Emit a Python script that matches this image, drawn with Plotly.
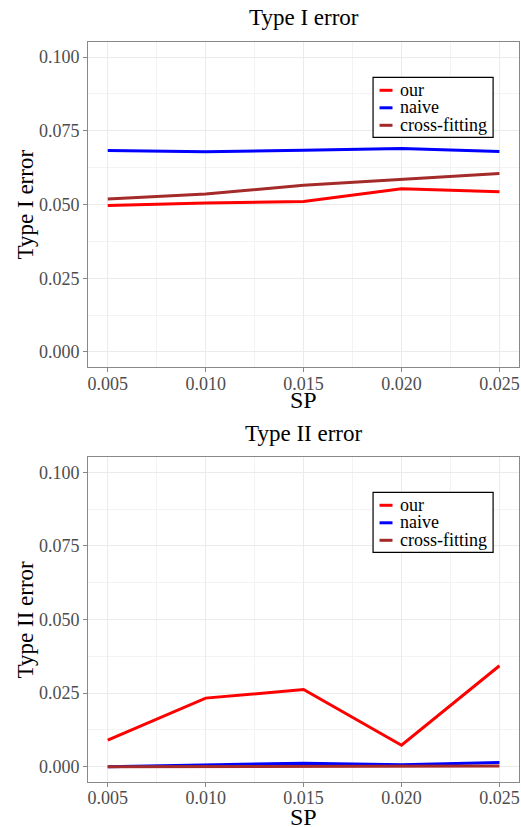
import plotly.graph_objects as go

sp = [0.005, 0.010, 0.015, 0.020, 0.025]
series_names = ["our", "naive", "cross-fitting"]
series_colors = ["#ff0000", "#0000ff", "#a52a2a"]

type1_our = [0.0497, 0.0505, 0.0510, 0.0553, 0.0543]
type1_naive = [0.0683, 0.0679, 0.0684, 0.0690, 0.0680]
type1_cross = [0.0519, 0.0536, 0.0565, 0.0585, 0.0605]

type2_our = [0.0090, 0.0233, 0.0262, 0.0073, 0.0343]
type2_naive = [0.0000, 0.0005, 0.0012, 0.0007, 0.0014]
type2_cross = [0.0000, 0.0000, 0.0001, 0.0001, 0.0002]

y_ticks = [0.000, 0.025, 0.050, 0.075, 0.100]

W, H = 521, 827
FONT = "Liberation Serif"

fig = go.Figure()

panels = [
    ([type1_our, type1_naive, type1_cross], "x", "y"),
    ([type2_our, type2_naive, type2_cross], "x2", "y2"),
]
for data, xa, ya in panels:
    for name, col, vals in zip(series_names, series_colors, data):
        fig.add_trace(go.Scatter(x=sp, y=vals, mode="lines", name=name,
                                 line=dict(color=col, width=3),
                                 xaxis=xa, yaxis=ya, showlegend=False))

left, right = 87.5 / W, 520 / W
top_dom = [1 - 367 / H, 1 - 42 / H]
bot_dom = [1 - 781.7 / H, 1 - 457.3 / H]

def xaxis(dom_anchor):
    return dict(domain=[left, right], anchor=dom_anchor, range=[0.004, 0.026],
                tickvals=sp, ticktext=[f"{v:.3f}" for v in sp],
                ticks="outside", ticklen=4, tickcolor="#888888",
                ticklabelstandoff=-4,
                showline=True, mirror=True, linecolor="#888888", linewidth=1,
                showgrid=True, gridcolor="#ebebeb", gridwidth=1,
                minor=dict(dtick=0.0025, tick0=0.0025, showgrid=True, gridcolor="#f3f3f3", gridwidth=1),
                zeroline=False,
                tickfont=dict(family=FONT, size=18, color="#4d4d4d"))

def yaxis(dom, anchor):
    return dict(domain=dom, anchor=anchor, range=[-0.0051, 0.1051],
                tickvals=y_ticks, ticktext=[f"{v:.3f}" for v in y_ticks],
                ticks="outside", ticklen=4, tickcolor="#888888",
                showline=True, mirror=True, linecolor="#888888", linewidth=1,
                showgrid=True, gridcolor="#ebebeb", gridwidth=1,
                minor=dict(dtick=0.0125, tick0=0.0125, showgrid=True, gridcolor="#f3f3f3", gridwidth=1),
                zeroline=False,
                tickfont=dict(family=FONT, size=18, color="#4d4d4d"))

fig.update_layout(
    width=W, height=H, margin=dict(l=0, r=0, t=0, b=0),
    paper_bgcolor="white", plot_bgcolor="white",
    xaxis=xaxis("y"), yaxis=yaxis(top_dom, "x"),
    xaxis2=xaxis("y2"), yaxis2=yaxis(bot_dom, "x2"),
    showlegend=False,
)

anns = [
    ("Type I error", 303.75, 18, 0, 23),
    ("Type II error", 303.75, 434, 0, 23),
    ("SP", 303.75, 400, 0, 24),
    ("SP", 303.75, 816.5, 0, 24),
    ("Type I error", 25, 204.5, -90, 23),
    ("Type II error", 25, 619.5, -90, 23),
]
for text, px, py, ang, fs in anns:
    fig.add_annotation(text=text, x=px / W, y=1 - py / H, xref="paper", yref="paper",
                       showarrow=False, textangle=ang, xanchor="center", yanchor="middle",
                       font=dict(family=FONT, size=fs, color="black"))

# legend boxes (layout, one per panel), drawn like ggplot's inset legend
for box_top in (77.3, 492.3):
    fig.add_shape(type="rect", xref="paper", yref="paper",
                  x0=373.5 / W, x1=494 / W, y0=1 - box_top / H, y1=1 - (box_top + 60) / H,
                  line=dict(color="black", width=1.2), fillcolor="white", layer="above")
    for i, (name, col) in enumerate(zip(series_names, series_colors)):
        yc = box_top + 13 + i * 17.5
        fig.add_shape(type="line", xref="paper", yref="paper",
                      x0=380 / W, x1=393 / W, y0=1 - yc / H, y1=1 - yc / H,
                      line=dict(color=col, width=3), layer="above")
        fig.add_annotation(text=name, x=399 / W, y=1 - (yc - 0.5) / H, xref="paper", yref="paper",
                           showarrow=False, xanchor="left", yanchor="middle",
                           font=dict(family=FONT, size=18, color="black"))

fig.write_html("out.html", config={"displayModeBar": False},
               post_script="document.body.style.margin='0px';")
